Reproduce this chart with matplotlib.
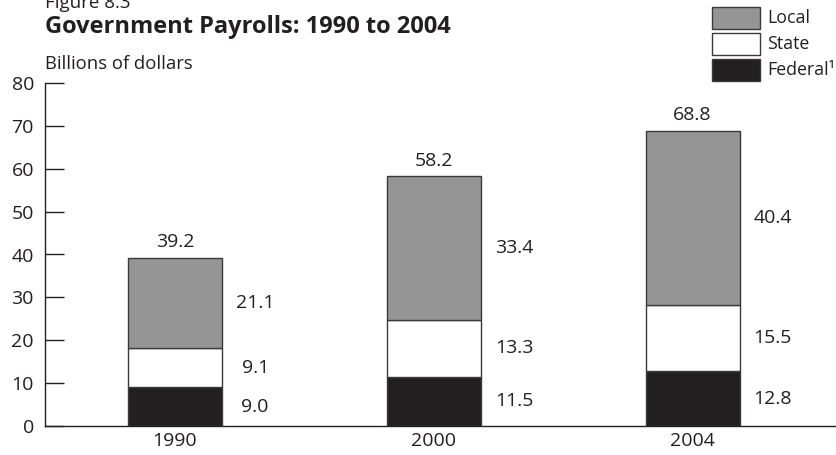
import matplotlib.pyplot as plt
from matplotlib.patches import Rectangle

plt.rcParams['font.family'] = ['Open Sans', 'DejaVu Sans']

# data (billions of dollars)
years = ['1990', '2000', '2004']
federal = [9.0, 11.5, 12.8]
state = [9.1, 13.3, 15.5]
local = [21.1, 33.4, 40.4]
totals = [39.2, 58.2, 68.8]

GRAY = '#959595'
BLACK = '#231f20'
EDGE = '#3a3a3a'

fig = plt.figure(figsize=(8.37, 4.55), dpi=100)
ax = fig.add_axes([45 / 837, 1 - 426 / 455, 1 - 45 / 837, (426 - 83) / 455])

x = list(range(len(years)))
w = 0.363
ax.bar(x, federal, w, color=BLACK, edgecolor=EDGE, linewidth=1)
ax.bar(x, state, w, bottom=federal, color='white', edgecolor=EDGE, linewidth=1)
bottom2 = [f + s for f, s in zip(federal, state)]
ax.bar(x, local, w, bottom=bottom2, color=GRAY, edgecolor=EDGE, linewidth=1)

fs = 14
for i in x:
    # segment values to the right of each bar
    ax.text(i + 0.31, federal[i] / 2, f'{federal[i]:.1f}', ha='center', va='center', fontsize=fs, color=BLACK)
    ax.text(i + 0.31, federal[i] + state[i] / 2, f'{state[i]:.1f}', ha='center', va='center', fontsize=fs, color=BLACK)
    ax.text(i + 0.31, bottom2[i] + local[i] / 2, f'{local[i]:.1f}', ha='center', va='center', fontsize=fs, color=BLACK)
    # total on top
    ax.annotate(f'{totals[i]:.1f}', (i, totals[i]), xytext=(0, 5), textcoords='offset points',
                ha='center', va='bottom', fontsize=fs, color=BLACK)

ax.set_xlim(-0.502, 2.558)
ax.set_ylim(0, 80)
ax.set_yticks(range(0, 81, 10))
ax.set_xticks(x)
ax.set_xticklabels(years)
ax.tick_params(axis='y', direction='in', length=13.5, width=1, color=BLACK, labelsize=14, pad=8, labelcolor=BLACK)
ax.tick_params(axis='x', length=0, labelsize=14, pad=4, labelcolor=BLACK)
for s in ['top', 'right']:
    ax.spines[s].set_visible(False)
for s in ['left', 'bottom']:
    ax.spines[s].set_color(BLACK)
    ax.spines[s].set_linewidth(1)

# titles
fig.text(45 / 837, 1 - 8 / 455, 'Figure 8.3', fontsize=13.5, color=BLACK, va='baseline')
fig.text(45 / 837, 1 - 33 / 455, 'Government Payrolls: 1990 to 2004', fontsize=17,
         fontweight='bold', color=BLACK, va='baseline')
fig.text(45 / 837, 1 - 69 / 455, 'Billions of dollars', fontsize=13.3, color=BLACK, va='baseline')

# legend
leg_items = [('Local', GRAY), ('State', 'white'), ('Federal¹', BLACK)]
for k, (lab, col) in enumerate(leg_items):
    y0 = 7 + 26 * k
    fig.patches.append(Rectangle((712 / 837, 1 - (y0 + 22) / 455), 48 / 837, 22 / 455,
                                 transform=fig.transFigure, facecolor=col, edgecolor=EDGE, linewidth=1))
    fig.text(767 / 837, 1 - (y0 + 11) / 455, lab, fontsize=12.8, color=BLACK, va='center')

fig.savefig('out.png', dpi=100)
